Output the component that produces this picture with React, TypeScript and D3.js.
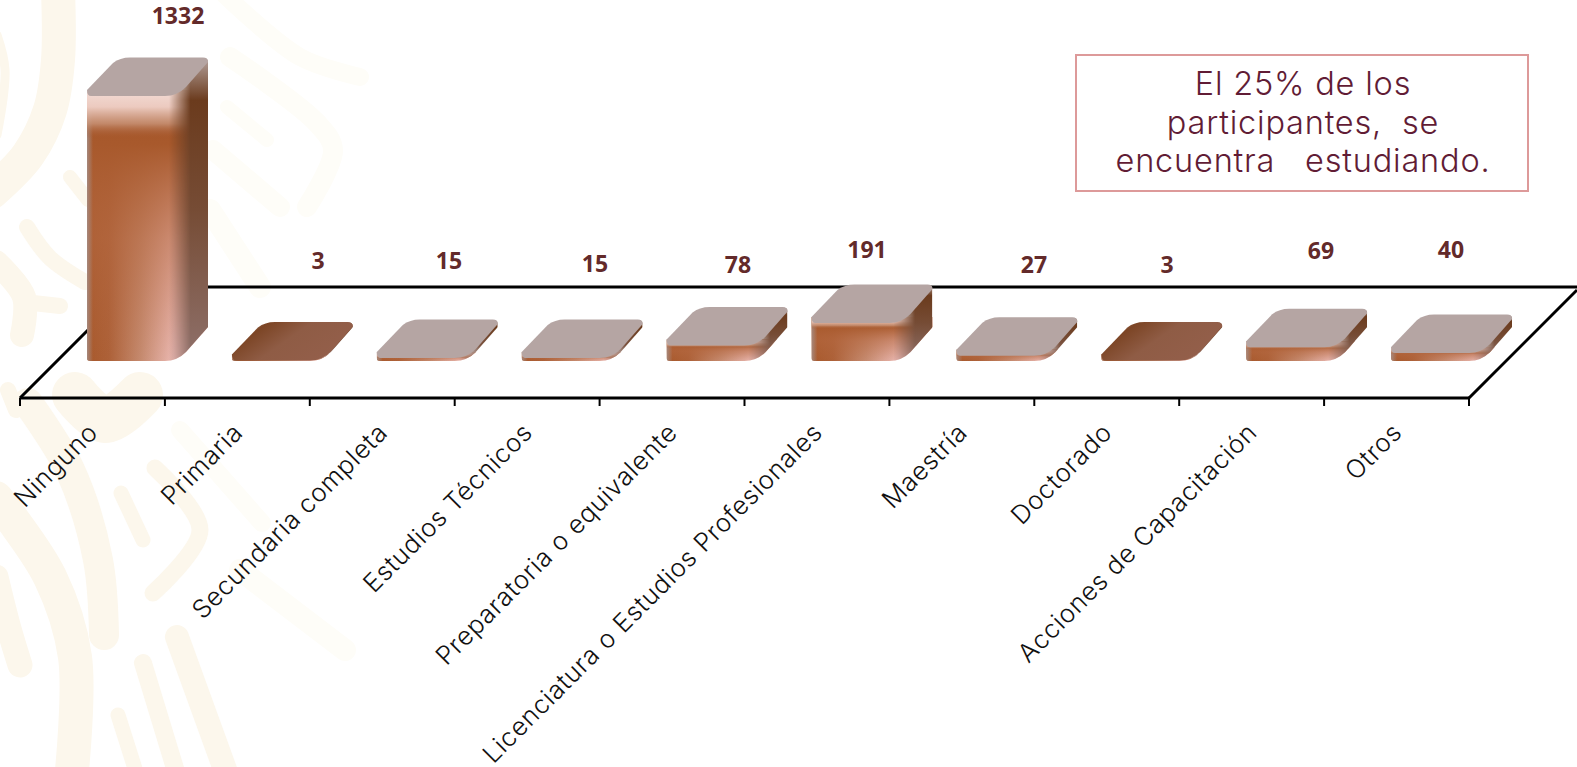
import React from "react";
import * as d3 from "d3";

const categories = [
  "Ninguno",
  "Primaria",
  "Secundaria completa",
  "Estudios Técnicos",
  "Preparatoria o equivalente",
  "Licenciatura o Estudios Profesionales",
  "Maestría",
  "Doctorado",
  "Acciones de Capacitación",
  "Otros",
];
const participants = [1332, 3, 15, 15, 78, 191, 27, 3, 69, 40];
const noteLines = ["El 25% de los", "participantes,  se", "encuentra   estudiando."];

// Value labels were placed by hand on the slide, so each has its own spot.
const valueLabelX = [178, 318, 449, 595, 738, 867, 1034, 1167, 1321, 1451];
const valueLabelY = [24, 269, 269, 272, 273, 258, 273, 273, 259, 258];

const WIDTH = 1577;
const HEIGHT = 767;
const FLOOR_FRONT = 398;
const FLOOR_BACK = 287;
const FLOOR_LEFT = 20;
const FLOOR_RIGHT = 1469;
const BAR_BASE = 361;
const BAR_INSET = 67;

const x = d3.scaleBand<string>().domain(categories).range([FLOOR_LEFT, FLOOR_RIGHT]);
const y = d3.scaleLinear().domain([0, 1332]).range([BAR_BASE, 96]);

type Stroke = { w: number; pts: [number, number][] };

// Ornamental ribbons of the background pattern, strongest on the left.
const ribbonsStrong: Stroke[] = [
  { w: 34, pts: [[58, -10], [58, 60], [50, 110], [28, 155], [-8, 192]] },
  { w: 9, pts: [[-3, 35], [5, 70], [-3, 135]] },
  { w: 16, pts: [[27, 227], [50, 258], [85, 282]] },
  { w: 14, pts: [[70, 177], [88, 200]] },
  { w: 24, pts: [[-4, 262], [24, 297], [22, 335]] },
  { w: 16, pts: [[24, 302], [60, 306]] },
  { w: 16, pts: [[8, 390], [16, 410]] },
  { w: 30, pts: [[28, 403], [70, 470], [98, 560], [104, 635]] },
  { w: 34, pts: [[-4, 498], [50, 577], [75, 657], [72, 770]] },
  { w: 25, pts: [[-4, 577], [8, 625], [20, 665]] },
  { w: 15, pts: [[121, 493], [143, 540]] },
  { w: 17, pts: [[155, 468], [200, 530], [153, 593]] },
  { w: 18, pts: [[143, 663], [177, 775]] },
  { w: 24, pts: [[177, 637], [227, 775]] },
  { w: 15, pts: [[118, 715], [137, 775]] },
  { w: 46, pts: [[75, 395], [105, 420], [140, 395]] },
];
const ribbonsFaint: Stroke[] = [
  { w: 18, pts: [[225, -5], [300, 57], [360, 77]] },
  { w: 20, pts: [[230, 57], [317, 123], [333, 150], [307, 207]] },
  { w: 14, pts: [[227, 107], [267, 140]] },
  { w: 20, pts: [[213, 150], [280, 207]] },
  { w: 22, pts: [[210, 210], [260, 287]] },
  { w: 18, pts: [[180, 430], [262, 523]] },
  { w: 22, pts: [[240, 570], [345, 650]] },
];
const ribbonLine = d3.line().curve(d3.curveCatmullRom.alpha(0.5));

// Rounded lozenge forming the upper face of a bar.
function capPath(x0: number, yF: number) {
  const p = d3.path();
  p.moveTo(x0, yF - 6);
  p.lineTo(x0 + 26, yF - 33);
  p.quadraticCurveTo(x0 + 33, yF - 38.5, x0 + 43, yF - 38.5);
  p.lineTo(x0 + 116, yF - 38.5);
  p.quadraticCurveTo(x0 + 121, yF - 38.5, x0 + 121, yF - 34);
  p.lineTo(x0 + 99, yF - 9);
  p.quadraticCurveTo(x0 + 90, yF, x0 + 78, yF);
  p.lineTo(x0 + 4, yF);
  p.quadraticCurveTo(x0, yF, x0, yF - 6);
  p.closePath();
  return p.toString();
}

// Outline of the whole extruded bar.
function bodyPath(x0: number, yF: number, h: number) {
  const p = d3.path();
  p.moveTo(x0, yF - 6);
  p.lineTo(x0 + 26, yF - 33);
  p.quadraticCurveTo(x0 + 33, yF - 38.5, x0 + 43, yF - 38.5);
  p.lineTo(x0 + 116, yF - 38.5);
  p.quadraticCurveTo(x0 + 121, yF - 38.5, x0 + 121, yF - 34);
  p.lineTo(x0 + 121, yF + h - 34);
  p.lineTo(x0 + 99, yF + h - 9);
  p.quadraticCurveTo(x0 + 90, yF + h, x0 + 78, yF + h);
  p.lineTo(x0 + 3, yF + h);
  p.quadraticCurveTo(x0, yF + h, x0, yF + h - 3);
  p.closePath();
  return p.toString();
}

function Bar({ value, index }: { value: number; index: number }) {
  const x0 = (x(categories[index]) as number) + BAR_INSET;
  const yF = y(value);
  const h = BAR_BASE - yF;
  const clip = `bar-clip-${index}`;
  const flat = value < 10;
  return (
    <g>
      <clipPath id={clip}>
        <path d={bodyPath(x0, yF, h)} />
      </clipPath>
      <g clipPath={`url(#${clip})`}>
        <rect x={x0} y={yF - 6} width={121} height={h + 6} fill="url(#frontFace)" />
        <rect x={x0} y={yF - 6} width={121} height={h + 6} fill="url(#frontShade)" />
        <rect x={x0} y={yF - 6} width={6} height={h + 6} fill="url(#leftEdge)" />
        <rect x={x0} y={yF - 6} width={121} height={Math.max(h * 0.16 + 6, 4)} fill="url(#topGlow)" />
        <rect x={x0 + 82} y={yF - 38} width={39} height={h + 38} fill="url(#sideFace)" mask="url(#sideFade)" />
      </g>
      <path d={capPath(x0, yF)} fill={flat ? "url(#flatCap)" : "#b5a5a3"} />
    </g>
  );
}

export default function App() {
  return (
    <svg
      width={WIDTH}
      height={HEIGHT}
      viewBox={`0 0 ${WIDTH} ${HEIGHT}`}
      style={{ position: "fixed", left: 0, top: 0, background: "#fff" }}
    >
      <defs>
        <linearGradient id="frontFace" x1="0" y1="0" x2="1" y2="0">
          <stop offset="0" stopColor="#a8592c" />
          <stop offset="0.18" stopColor="#ad6138" />
          <stop offset="0.45" stopColor="#c68b70" />
          <stop offset="0.72" stopColor="#ecb9b3" />
          <stop offset="1" stopColor="#ecb9b3" />
        </linearGradient>
        <linearGradient id="frontShade" x1="0" y1="0" x2="0" y2="1">
          <stop offset="0" stopColor="#a4552a" />
          <stop offset="0.2" stopColor="#a8592c" />
          <stop offset="0.55" stopColor="#b4673f" stopOpacity="0.55" />
          <stop offset="1" stopColor="#b4673f" stopOpacity="0" />
        </linearGradient>
        <linearGradient id="leftEdge" x1="0" y1="0" x2="1" y2="0">
          <stop offset="0" stopColor="#a58a80" stopOpacity="0.95" />
          <stop offset="1" stopColor="#a58a80" stopOpacity="0" />
        </linearGradient>
        <linearGradient id="topGlow" x1="0" y1="0" x2="0" y2="1">
          <stop offset="0" stopColor="#f3dcd6" />
          <stop offset="0.35" stopColor="#eccabf" />
          <stop offset="0.7" stopColor="#c99478" stopOpacity="0.8" />
          <stop offset="1" stopColor="#a4552a" stopOpacity="0" />
        </linearGradient>
        <linearGradient id="sideFace" x1="0" y1="0" x2="0" y2="1">
          <stop offset="0" stopColor="#b3a09b" />
          <stop offset="0.14" stopColor="#6b3b1d" />
          <stop offset="0.5" stopColor="#764c35" />
          <stop offset="1" stopColor="#8f716b" />
        </linearGradient>
        <linearGradient id="sideMaskRamp" x1="0" y1="0" x2="1" y2="0">
          <stop offset="0" stopColor="#000" />
          <stop offset="0.55" stopColor="#fff" />
        </linearGradient>
        <mask id="sideFade" maskContentUnits="objectBoundingBox">
          <rect width="1" height="1" fill="url(#sideMaskRamp)" />
        </mask>
        <linearGradient id="flatCap" x1="0" y1="0.15" x2="1" y2="0.6">
          <stop offset="0" stopColor="#b39b92" />
          <stop offset="0.2" stopColor="#7c4525" />
          <stop offset="0.5" stopColor="#8f5c45" />
          <stop offset="1" stopColor="#945f4b" />
        </linearGradient>
      </defs>

      <g fill="none" stroke="#fcf7ec" strokeLinecap="round" strokeLinejoin="round">
        {ribbonsStrong.map((r, i) => (
          <path key={i} d={ribbonLine(r.pts) as string} strokeWidth={r.w} />
        ))}
      </g>
      <g fill="none" stroke="#fefdf8" strokeLinecap="round" strokeLinejoin="round">
        {ribbonsFaint.map((r, i) => (
          <path key={i} d={ribbonLine(r.pts) as string} strokeWidth={r.w} />
        ))}
      </g>

      {/* Floor of the 3D plot */}
      <g fill="none" stroke="#000" strokeWidth={3}>
        <path d={`M${FLOOR_LEFT},${FLOOR_FRONT}L${FLOOR_LEFT + 111},${FLOOR_BACK}H${WIDTH}`} />
        <path d={`M${FLOOR_RIGHT},${FLOOR_FRONT}L${WIDTH},${FLOOR_BACK + 3}`} />
        <path d={`M${FLOOR_LEFT},${FLOOR_FRONT}H${FLOOR_RIGHT}`} />
      </g>
      <g stroke="#000" strokeWidth={2}>
        {[...categories.map((c) => x(c) as number), FLOOR_RIGHT].map((t) => (
          <line key={t} x1={t} x2={t} y1={FLOOR_FRONT} y2={FLOOR_FRONT + 8} />
        ))}
      </g>

      {participants.map((v, i) => (
        <Bar key={categories[i]} value={v} index={i} />
      ))}

      {participants.map((v, i) => (
        <text
          key={categories[i]}
          x={valueLabelX[i]}
          y={valueLabelY[i]}
          textAnchor="middle"
          fontFamily="'Open Sans', sans-serif"
          fontWeight={700}
          fontSize={23}
          fill="#632a2a"
        >
          {v}
        </text>
      ))}

      {categories.map((c) => {
        const cx = (x(c) as number) + x.bandwidth() / 2 + 7;
        return (
          <text
            key={c}
            transform={`translate(${cx},${FLOOR_FRONT + 36}) rotate(-45)`}
            textAnchor="end"
            fontFamily="Inter, sans-serif"
            fontWeight={350}
            fontSize={25.5}
            letterSpacing={0.7}
            fill="#111"
          >
            {c}
          </text>
        );
      })}

      {/* Call-out box */}
      <rect x={1076} y={55} width={452} height={136} fill="#fff" stroke="#dd9a9a" strokeWidth={2} />
      {noteLines.map((line, i) => (
        <text
          key={line}
          x={1303}
          y={95 + i * 38.5}
          textAnchor="middle"
          fontFamily="Inter, sans-serif"
          fontWeight={350}
          fontSize={32.5}
          letterSpacing={0.8}
          fill="#611c35"
          style={{ whiteSpace: "pre" }}
        >
          {line}
        </text>
      ))}
    </svg>
  );
}
